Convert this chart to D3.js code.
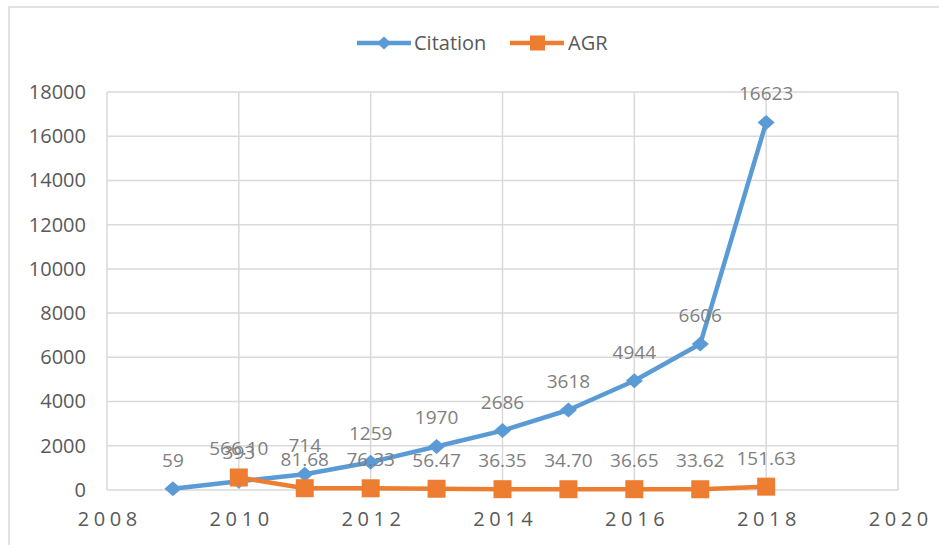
<!DOCTYPE html>
<html>
<head>
<meta charset="utf-8">
<script src="https://cdn.jsdelivr.net/npm/d3@7"></script>
<style>
  body { margin: 0; background: #fff; }
  svg { display: block; font-family: "Open Sans", sans-serif; }
</style>
</head>
<body>
<div id="chart"></div>
<script>
// values
var citationYears = [2009, 2010, 2011, 2012, 2013, 2014, 2015, 2016, 2017, 2018];
var citationValues = [59, 393, 714, 1259, 1970, 2686, 3618, 4944, 6606, 16623];
var agrYears = [2010, 2011, 2012, 2013, 2014, 2015, 2016, 2017, 2018];
var agrValues = [566.10, 81.68, 76.33, 56.47, 36.35, 34.70, 36.65, 33.62, 151.63];
var xTicks = [2008, 2010, 2012, 2014, 2016, 2018, 2020];
var yTicks = [0, 2000, 4000, 6000, 8000, 10000, 12000, 14000, 16000, 18000];

var width = 939, height = 545;
var margin = {top: 92, right: 41, bottom: 55, left: 107};

var svg = d3.select('#chart').append('svg')
	.attr('width', width)
	.attr('height', height);

// chart frame
svg.append('rect')
	.attr('x', 9).attr('y', 7)
	.attr('width', 1000).attr('height', 1000)
	.attr('fill', 'none')
	.attr('stroke', '#d9d9d9')
	.attr('stroke-width', 1.5);

var x = d3.scaleLinear().domain([2008, 2020]).range([margin.left, width - margin.right]);
var y = d3.scaleLinear().domain([0, 18000]).range([height - margin.bottom, margin.top]);

// grid
svg.append('g').selectAll('line')
	.data(yTicks)
	.enter().append('line')
	.attr('x1', x(2008)).attr('x2', x(2020))
	.attr('y1', function(d) { return y(d); })
	.attr('y2', function(d) { return y(d); })
	.attr('stroke', '#d9d9d9')
	.attr('stroke-width', 1.5);

svg.append('g').selectAll('line')
	.data(xTicks)
	.enter().append('line')
	.attr('x1', function(d) { return x(d); })
	.attr('x2', function(d) { return x(d); })
	.attr('y1', y(0)).attr('y2', y(18000))
	.attr('stroke', '#d9d9d9')
	.attr('stroke-width', 1.5);

// axes
var yAxis = svg.append('g')
	.attr('transform', 'translate(' + (margin.left - 21) + ',0)')
	.call(d3.axisLeft(y).tickValues(yTicks).tickSize(0).tickPadding(0).tickFormat(d3.format('d')));
yAxis.select('.domain').remove();
yAxis.selectAll('text')
	.attr('fill', '#595959')
	.style('font-size', '20px')
	.style('font-family', '"Open Sans", sans-serif');

var ls = 4.6;
var xAxis = svg.append('g')
	.attr('transform', 'translate(' + (ls / 2) + ',' + (y(0) + 22) + ')')
	.call(d3.axisBottom(x).tickValues(xTicks).tickSize(0).tickPadding(0).tickFormat(d3.format('d')));
xAxis.select('.domain').remove();
xAxis.selectAll('text')
	.attr('fill', '#595959')
	.attr('dy', '0.71em')
	.style('letter-spacing', ls + 'px')
	.style('font-size', '20px')
	.style('font-family', '"Open Sans", sans-serif');

// lines
var citation = citationYears.map(function(d, i) { return {year: d, value: citationValues[i]}; });
var agr = agrYears.map(function(d, i) { return {year: d, value: agrValues[i]}; });

var line = d3.line()
	.x(function(d) { return x(d.year); })
	.y(function(d) { return y(d.value); });

svg.append('path')
	.datum(citation)
	.attr('d', line)
	.attr('fill', 'none')
	.attr('stroke', '#5b9bd5')
	.attr('stroke-width', 4.5)
	.attr('stroke-linejoin', 'round');

svg.append('path')
	.datum(agr)
	.attr('d', line)
	.attr('fill', 'none')
	.attr('stroke', '#ed7d31')
	.attr('stroke-width', 4.5)
	.attr('stroke-linejoin', 'round');

function diamond(r, h) {
	return 'M0,' + (-h) + 'L' + r + ',0L0,' + h + 'L' + (-r) + ',0Z';
}

svg.append('g').selectAll('path')
	.data(citation)
	.enter().append('path')
	.attr('d', diamond(8.5, 7.5))
	.attr('transform', function(d) { return 'translate(' + x(d.year) + ',' + y(d.value) + ')'; })
	.attr('fill', '#5b9bd5');

svg.append('g').selectAll('rect')
	.data(agr)
	.enter().append('rect')
	.attr('x', function(d) { return x(d.year) - 9; })
	.attr('y', function(d) { return y(d.value) - 9; })
	.attr('width', 18).attr('height', 18)
	.attr('fill', '#ed7d31');

// data labels
svg.append('g').selectAll('text')
	.data(citation)
	.enter().append('text')
	.attr('x', function(d) { return x(d.year); })
	.attr('y', function(d) { return y(d.value) - 22; })
	.attr('text-anchor', 'middle')
	.attr('fill', '#7f7f7f')
	.style('font-size', '19px')
	.text(function(d) { return d.value; });

svg.append('g').selectAll('text')
	.data(agr)
	.enter().append('text')
	.attr('x', function(d) { return x(d.year); })
	.attr('y', function(d) { return y(d.value) - 22; })
	.attr('text-anchor', 'middle')
	.attr('fill', '#7f7f7f')
	.style('font-size', '19px')
	.text(function(d) { return d.value.toFixed(2); });

// legend
var legend = svg.append('g').attr('transform', 'translate(0,43)');
legend.append('line')
	.attr('x1', 357).attr('x2', 411).attr('y1', 0).attr('y2', 0)
	.attr('stroke', '#5b9bd5').attr('stroke-width', 4.5);
legend.append('path')
	.attr('d', diamond(7, 6.5))
	.attr('transform', 'translate(384,0)')
	.attr('fill', '#5b9bd5');
legend.append('text')
	.attr('x', 414).attr('y', 0).attr('dy', '0.35em')
	.attr('fill', '#595959')
	.style('font-size', '20px')
	.text('Citation');

legend.append('line')
	.attr('x1', 510).attr('x2', 564).attr('y1', 0).attr('y2', 0)
	.attr('stroke', '#ed7d31').attr('stroke-width', 4.5);
legend.append('rect')
	.attr('x', 530).attr('y', -7.5)
	.attr('width', 15).attr('height', 15)
	.attr('fill', '#ed7d31');
legend.append('text')
	.attr('x', 568).attr('y', 0).attr('dy', '0.35em')
	.attr('fill', '#595959')
	.style('font-size', '20px')
	.text('AGR');
</script>
</body>
</html>
